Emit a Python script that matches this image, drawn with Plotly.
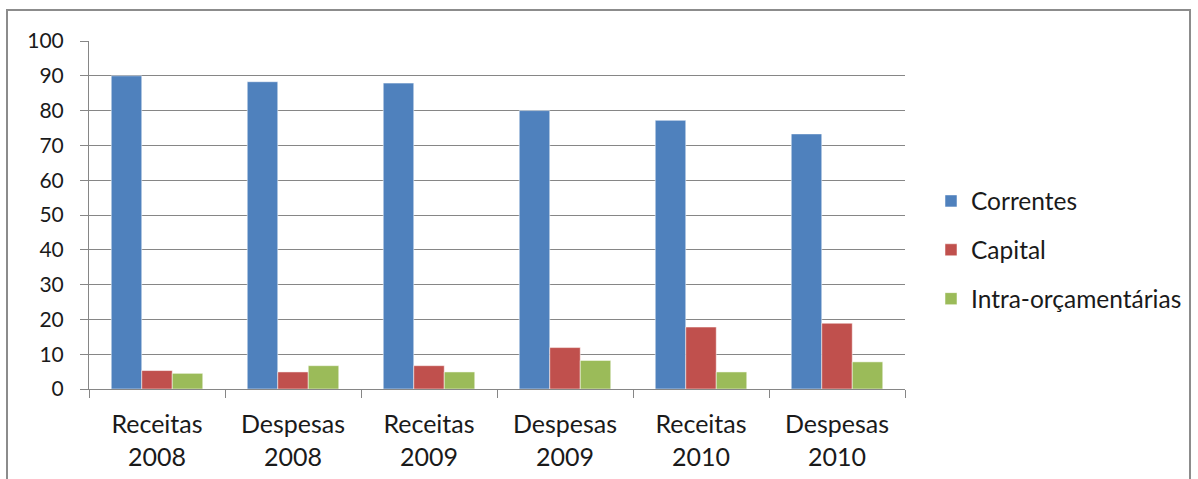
import plotly.graph_objects as go

categories = ["Receitas<br>2008", "Despesas<br>2008", "Receitas<br>2009",
              "Despesas<br>2009", "Receitas<br>2010", "Despesas<br>2010"]
correntes = [90.0, 88.3, 87.9, 80.0, 77.2, 73.3]
capital = [5.3, 4.9, 6.7, 11.9, 17.8, 18.9]
intra = [4.5, 6.7, 4.9, 8.2, 4.9, 7.8]

series_names = ["Correntes", "Capital", "Intra-orçamentárias"]
series_colors = ["#4F81BD", "#C0504D", "#9BBB59"]
series_values = [correntes, capital, intra]

FONT = "Lato, 'Noto Sans', sans-serif"
W, H = 1198, 479
L, R, T, B = 89, 1198 - 905, 41, 479 - 389

fig = go.Figure()
for name, color, vals in zip(series_names, series_colors, series_values):
    fig.add_trace(go.Bar(
        x=categories, y=vals, name=name, legendgroup=name,
        marker=dict(color=color, line=dict(color="rgba(255,255,255,0.5)", width=1)),
    ))

pw, ph = W - L - R, H - T - B

def px(x):
    return (x - L) / pw

def py(y):
    return (H - B - y) / ph

fig.update_layout(
    width=W, height=H,
    margin=dict(l=L, r=R, t=T, b=B, autoexpand=False),
    paper_bgcolor="white", plot_bgcolor="white",
    barmode="group", bargap=0.327, bargroupgap=0,
    font=dict(family=FONT, size=21, color="#1a1a1a"),
    showlegend=True,
    legend=dict(x=px(931), y=py(250), xanchor="left", yanchor="middle",
                tracegroupgap=14, font=dict(size=24.5),
                bgcolor="rgba(0,0,0,0)"),
    xaxis=dict(showgrid=False, showline=True, linecolor="#868686", linewidth=1,
               ticks="outside", tickson="boundaries", ticklen=8,
               tickcolor="#868686", fixedrange=True, automargin=False,
               tickfont=dict(size=25), ticklabelstandoff=13),
    yaxis=dict(range=[0, 100], dtick=10, showgrid=True, gridcolor="#868686",
               gridwidth=1, showline=True, linecolor="#868686", linewidth=1,
               ticks="outside", ticklen=8, tickcolor="#868686", zeroline=False,
               fixedrange=True, automargin=False,
               tickfont=dict(size=21), ticklabelstandoff=12),
    shapes=[dict(type="rect", xref="paper", yref="paper",
                 x0=px(7), x1=px(1190), y0=py(495), y1=py(10),
                 line=dict(color="#8c8c8c", width=2), fillcolor="rgba(0,0,0,0)",
                 layer="below")],
)

fig.write_html("out.html")
